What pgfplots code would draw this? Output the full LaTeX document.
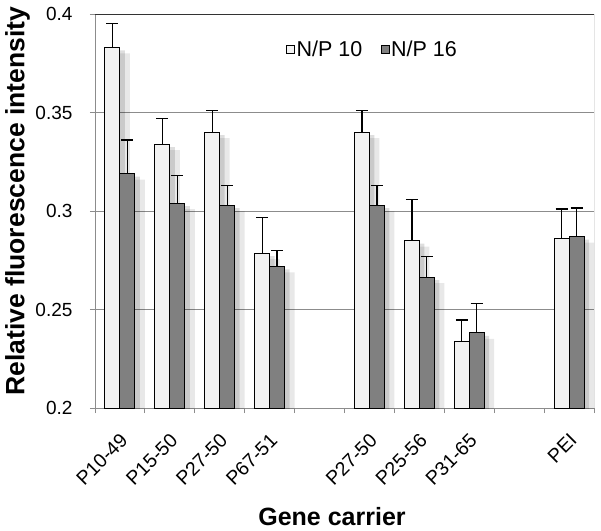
\documentclass[border=0pt]{standalone}
\usepackage{pgfplots}
\usepackage{pgfplotstable}
\pgfplotsset{compat=1.18}
\usepackage{fontspec}
\setmainfont{Liberation Sans}

\definecolor{barlight}{RGB}{242,242,242}
\definecolor{bardark}{RGB}{128,128,128}
\definecolor{gridgray}{RGB}{140,140,140}

% slot, value, error (slots 4 and 8 are empty)
\pgfplotstableread{
x  y      e
0  0.383  0.012
1  0.334  0.013
2  0.340  0.011
3  0.2786 0.018
5  0.340  0.011
6  0.285  0.021
7  0.234  0.0106
9  0.286  0.015
}\npten
\pgfplotstableread{
x  y      e
0  0.319  0.017
1  0.304  0.014
2  0.303  0.010
3  0.2719 0.008
5  0.303  0.010
6  0.2664 0.0106
7  0.2381 0.0151
9  0.287  0.0145
}\npsixteen

\begin{document}
\begin{tikzpicture}
\begin{axis}[
    scale only axis,
    width=499pt,
    height=394pt,
    ybar=0pt,
    bar width=0.3,
    xmin=-0.5, xmax=9.5,
    ymin=0.2, ymax=0.4,
    ytick={0.2,0.25,...,0.4},
    xtick={0,...,9},
    xticklabels={P10-49,P15-50,P27-50,P67-51,,P27-50,P25-56,P31-65,,PEI},
    minor xtick={-0.5,0.5,...,9.5},
    major x tick style={draw=none},
    minor tick length=5pt,
    major tick length=5pt,
    tick style={gridgray, line width=0.8pt},
    tick pos=left,
    tick align=outside,
    axis line style={gridgray, line width=0.9pt},
    axis x line*=bottom,
    axis y line*=left,
    ymajorgrids,
    grid style={gridgray, line width=1pt},
    /pgf/number format/assume math mode=true,
    yticklabel style={font=\fontsize{19}{21}\selectfont, /pgf/number format/fixed, xshift=-14pt},
    % shifts act in the rotated frame
    xticklabel style={font=\fontsize{19.5}{21}\selectfont, rotate=45, anchor=east, inner sep=0pt, xshift=-14pt, yshift=-20pt},
    ylabel={\textbf{Relative fluorescence intensity}},
    xlabel={\textbf{Gene carrier}},
    ylabel style={font=\fontsize{26.5}{29}\selectfont, at={([xshift=-90pt]axis description cs:0,0.525)}, anchor=north, inner sep=0pt},
    xlabel style={font=\fontsize{25}{28}\selectfont, at={([yshift=-109pt]axis description cs:0.475,0)}, anchor=center, inner sep=0pt},
    legend columns=2,
    legend style={at={(axis description cs:0.383,0.909)}, anchor=west, draw=none, fill=none, inner sep=0pt,
        font=\fontsize{21.5}{23}\selectfont, nodes={inner sep=1.5pt},
        /tikz/every even column/.append style={column sep=17pt}},
    legend image code/.code={\draw[#1, line width=0.8pt] (0pt,-4pt) rectangle (8pt,4pt);},
    error bars/error bar style={black, line width=1.3pt},
    error bars/error mark options={rotate=90, mark size=6pt, line width=1.3pt, black},
]
% soft shadows behind the bars
\addplot[forget plot, fill=black, draw=none, opacity=0.09, bar shift=-0.15+0.2, yshift=-6pt] table[x=x, y=y] {\npten};
\addplot[forget plot, fill=black, draw=none, opacity=0.13, bar shift=-0.15+0.1, yshift=-3pt] table[x=x, y=y] {\npten};
\addplot[forget plot, fill=black, draw=none, opacity=0.09, bar shift=0.15+0.2, yshift=-6pt] table[x=x, y=y] {\npsixteen};
\addplot[forget plot, fill=black, draw=none, opacity=0.13, bar shift=0.15+0.1, yshift=-3pt] table[x=x, y=y] {\npsixteen};
% bars
\addplot[fill=barlight, draw=black, line width=1pt, bar shift=-0.15,
    error bars/.cd, y dir=plus, y explicit]
    table[x=x, y=y, y error=e] {\npten};
\addplot[fill=bardark, draw=black, line width=1pt, bar shift=0.15,
    error bars/.cd, y dir=plus, y explicit]
    table[x=x, y=y, y error=e] {\npsixteen};
\legend{N/P 10, N/P 16}
\draw[black!80, line width=0.9pt] (rel axis cs:0,1) -- (rel axis cs:1,1) -- (rel axis cs:1,0);
\coordinate (bl) at (rel axis cs:0,0);
\coordinate (tr) at (rel axis cs:1,1);
\end{axis}
\pgfresetboundingbox
\path[use as bounding box] ([shift={(-95pt,-122pt)}]bl) rectangle ([shift={(7pt,14pt)}]tr);
\end{tikzpicture}
\end{document}
